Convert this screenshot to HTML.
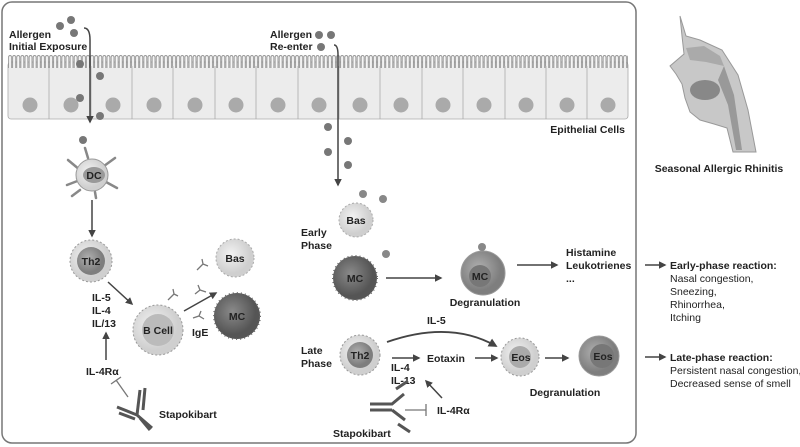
<!DOCTYPE html>
<html><head><meta charset="utf-8"><style>
html,body{margin:0;padding:0;background:#fff;}
svg{display:block;font-family:"Liberation Sans",sans-serif;}
.b{font-weight:bold;font-size:10.5px;fill:#222;}
.n{font-size:10.5px;fill:#222;}
</style></head><body>
<svg width="800" height="447" viewBox="0 0 800 447">
<defs>
<marker id="ah" viewBox="0 0 10 10" refX="8" refY="5" markerWidth="5" markerHeight="5" orient="auto"><path d="M0,0L10,5L0,10z" fill="#444"/></marker>
<radialGradient id="lt" cx="0.4" cy="0.4"><stop offset="0" stop-color="#f2f2f2"/><stop offset="1" stop-color="#cfcfcf"/></radialGradient>
<radialGradient id="dk" cx="0.4" cy="0.4"><stop offset="0" stop-color="#8a8a8a"/><stop offset="1" stop-color="#555"/></radialGradient>
<radialGradient id="md" cx="0.4" cy="0.4"><stop offset="0" stop-color="#b0b0b0"/><stop offset="1" stop-color="#7e7e7e"/></radialGradient>
<pattern id="vil" x="8" y="54" width="4.1" height="16" patternUnits="userSpaceOnUse"><path d="M0.6,16 L0.6,3 A1.45,1.45 0 0 1 3.5,3 L3.5,16" fill="#f6f6f6" stroke="#888" stroke-width="0.8"/></pattern>
</defs>
<rect x="2" y="2" width="634" height="441" rx="10" fill="#fff" stroke="#777" stroke-width="1.5"/>
<rect x="8" y="62" width="620" height="57" rx="3" fill="#ececec" stroke="#aaa" stroke-width="0.8"/>
<rect x="8" y="54" width="620" height="14" fill="url(#vil)"/>
<g stroke="#aaa" stroke-width="0.8">
<line x1="49" y1="66" x2="49" y2="119"/><line x1="91" y1="66" x2="91" y2="119"/><line x1="132" y1="66" x2="132" y2="119"/><line x1="173" y1="66" x2="173" y2="119"/><line x1="215" y1="66" x2="215" y2="119"/><line x1="256" y1="66" x2="256" y2="119"/><line x1="298" y1="66" x2="298" y2="119"/><line x1="339" y1="66" x2="339" y2="119"/><line x1="380" y1="66" x2="380" y2="119"/><line x1="422" y1="66" x2="422" y2="119"/><line x1="463" y1="66" x2="463" y2="119"/><line x1="505" y1="66" x2="505" y2="119"/><line x1="546" y1="66" x2="546" y2="119"/><line x1="587" y1="66" x2="587" y2="119"/>
</g>
<g fill="#aaa">
<circle cx="30" cy="105" r="7.5"/><circle cx="71" cy="105" r="7.5"/><circle cx="113" cy="105" r="7.5"/><circle cx="154" cy="105" r="7.5"/><circle cx="195" cy="105" r="7.5"/><circle cx="236" cy="105" r="7.5"/><circle cx="278" cy="105" r="7.5"/><circle cx="319" cy="105" r="7.5"/><circle cx="360" cy="105" r="7.5"/><circle cx="401" cy="105" r="7.5"/><circle cx="443" cy="105" r="7.5"/><circle cx="484" cy="105" r="7.5"/><circle cx="526" cy="105" r="7.5"/><circle cx="567" cy="105" r="7.5"/><circle cx="608" cy="105" r="7.5"/>
</g>
<text x="625" y="133" class="b" text-anchor="end">Epithelial Cells</text>
<g fill="#777">
<circle cx="60" cy="26" r="4"/><circle cx="71" cy="20" r="4"/><circle cx="74" cy="33" r="4"/>
<circle cx="80" cy="64" r="4"/><circle cx="100" cy="76" r="4"/><circle cx="80" cy="98" r="4"/><circle cx="100" cy="116" r="4"/><circle cx="83" cy="140" r="4"/>
<circle cx="319" cy="35" r="4"/><circle cx="331" cy="35" r="4"/><circle cx="321" cy="47" r="4"/>
<circle cx="328" cy="127" r="4"/><circle cx="348" cy="141" r="4"/><circle cx="328" cy="152" r="4"/><circle cx="348" cy="165" r="4"/>
</g>
<text x="9" y="38" class="b">Allergen</text><text x="9" y="50" class="b">Initial Exposure</text>
<text x="270" y="38" class="b">Allergen</text><text x="270" y="50" class="b">Re-enter</text>
<path d="M84,28 Q90,28 90,40 L90,122" stroke="#444" stroke-width="1.5" fill="none" marker-end="url(#ah)"/>
<path d="M334,45 Q338,45 338,55 L338,185" stroke="#444" stroke-width="1.5" fill="none" marker-end="url(#ah)"/>
<g stroke="#888" stroke-width="2.5" stroke-linecap="round" fill="none">
<path d="M80,170 L68,160"/><path d="M80,180 L67,185"/><path d="M104,166 L115,158"/><path d="M106,182 L117,188"/><path d="M88,158 L85,148"/><path d="M95,192 L96,198"/><path d="M80,190 L72,196"/>
</g>
<circle cx="92" cy="175" r="16" fill="url(#lt)" stroke="#999"/>
<ellipse cx="94" cy="175" rx="11" ry="8" fill="#999"/>
<text x="94" y="179" class="b" text-anchor="middle">DC</text>
<line x1="92" y1="200" x2="92" y2="236" stroke="#444" stroke-width="1.5" marker-end="url(#ah)"/>
<circle cx="91" cy="261" r="21" fill="url(#lt)" stroke="#999" stroke-dasharray="2 2"/>
<circle cx="91" cy="261" r="14" fill="url(#md)"/>
<text x="91" y="265" class="b" text-anchor="middle">Th2</text>
<text x="92" y="301" class="b">IL-5</text><text x="92" y="314" class="b">IL-4</text><text x="92" y="327" class="b">IL/13</text>
<line x1="108" y1="282" x2="132" y2="304" stroke="#444" stroke-width="1.5" marker-end="url(#ah)"/>
<line x1="106" y1="360" x2="106" y2="333" stroke="#444" stroke-width="1.5" marker-end="url(#ah)"/>
<text x="86" y="375" class="b">IL-4Rα</text>
<line x1="128" y1="397" x2="116" y2="380" stroke="#777" stroke-width="1.3"/><line x1="111" y1="384" x2="121" y2="377" stroke="#777" stroke-width="1.3"/>
<g stroke="#555" stroke-width="3" fill="none">
<path d="M117,407 L137,415 L152,428"/><path d="M119,413 L135,419"/><path d="M137,415 L140,390"/><path d="M145,388 L143,410"/><path d="M140,418 L150,430"/>
</g>
<text x="159" y="418" class="b">Stapokibart</text>
<circle cx="158" cy="330" r="25" fill="url(#lt)" stroke="#999" stroke-dasharray="2 2"/>
<circle cx="158" cy="330" r="16" fill="#bbb"/>
<text x="158" y="334" class="b" text-anchor="middle">B Cell</text>
<text x="192" y="336" class="b">IgE</text>
<line x1="184" y1="311" x2="216" y2="293" stroke="#444" stroke-width="1.5" marker-end="url(#ah)"/>
<g stroke="#777" stroke-width="1.3" fill="none">
<path d="M168,300 L174,294 M174,294 L178,296 M174,294 L173,289"/>
<path d="M197,270 L203,264 M203,264 L208,266 M203,264 L202,259"/>
<path d="M195,294 L200,290 L206,292 M200,290 L198,285"/>
<path d="M193,318 L199,316 L204,319 M199,316 L201,311"/>
</g>
<circle cx="235" cy="258" r="19" fill="url(#lt)" stroke="#aaa" stroke-dasharray="2 2"/>
<text x="235" y="262" class="b" text-anchor="middle">Bas</text>
<circle cx="237" cy="316" r="23" fill="url(#dk)" stroke="#666" stroke-width="2" stroke-dasharray="1 3"/>
<text x="237" y="320" class="b" text-anchor="middle">MC</text>
<text x="301" y="236" class="b">Early</text><text x="301" y="249" class="b">Phase</text>
<circle cx="356" cy="220" r="17" fill="url(#lt)" stroke="#aaa" stroke-dasharray="2 2"/>
<text x="356" y="224" class="b" text-anchor="middle">Bas</text>
<circle cx="363" cy="194" r="4" fill="#888"/><circle cx="383" cy="199" r="4" fill="#888"/>
<circle cx="355" cy="278" r="22" fill="url(#dk)" stroke="#666" stroke-width="2" stroke-dasharray="1 3"/>
<text x="355" y="282" class="b" text-anchor="middle">MC</text>
<circle cx="386" cy="254" r="4" fill="#888"/>
<line x1="386" y1="278" x2="441" y2="278" stroke="#444" stroke-width="1.5" marker-end="url(#ah)"/>
<circle cx="483" cy="273" r="22" fill="url(#md)" stroke="#999"/>
<circle cx="480" cy="276" r="11" fill="#777"/>
<text x="480" y="280" class="b" text-anchor="middle">MC</text>
<circle cx="482" cy="247" r="4" fill="#888"/>
<text x="485" y="306" class="b" text-anchor="middle">Degranulation</text>
<line x1="517" y1="265" x2="557" y2="265" stroke="#444" stroke-width="1.5" marker-end="url(#ah)"/>
<text x="566" y="256" class="b">Histamine</text><text x="566" y="269" class="b">Leukotrienes</text><text x="566" y="282" class="b">...</text>
<text x="301" y="354" class="b">Late</text><text x="301" y="367" class="b">Phase</text>
<circle cx="360" cy="355" r="20" fill="url(#lt)" stroke="#999" stroke-dasharray="2 2"/>
<circle cx="360" cy="355" r="13" fill="url(#md)"/>
<text x="360" y="359" class="b" text-anchor="middle">Th2</text>
<text x="427" y="324" class="b">IL-5</text>
<path d="M387,342 Q450,320 496,346" stroke="#444" stroke-width="1.8" fill="none" marker-end="url(#ah)"/>
<line x1="392" y1="358" x2="419" y2="358" stroke="#444" stroke-width="1.5" marker-end="url(#ah)"/>
<text x="391" y="371" class="b">IL-4</text><text x="391" y="384" class="b">IL-13</text>
<text x="427" y="362" class="b">Eotaxin</text>
<line x1="475" y1="358" x2="497" y2="358" stroke="#444" stroke-width="1.5" marker-end="url(#ah)"/>
<circle cx="520" cy="357" r="19" fill="url(#lt)" stroke="#999" stroke-dasharray="2 2"/>
<circle cx="520" cy="357" r="11" fill="#aaa"/>
<text x="521" y="361" class="b" text-anchor="middle">Eos</text>
<line x1="545" y1="358" x2="568" y2="358" stroke="#444" stroke-width="1.5" marker-end="url(#ah)"/>
<circle cx="599" cy="356" r="20" fill="url(#md)" stroke="#999"/>
<circle cx="602" cy="356" r="12" fill="#777"/>
<text x="603" y="360" class="b" text-anchor="middle">Eos</text>
<text x="565" y="396" class="b" text-anchor="middle">Degranulation</text>
<line x1="442" y1="398" x2="426" y2="381" stroke="#444" stroke-width="1.5" marker-end="url(#ah)"/>
<line x1="405" y1="410" x2="426" y2="410" stroke="#777" stroke-width="1.3"/><line x1="426" y1="404" x2="426" y2="416" stroke="#777" stroke-width="1.3"/>
<text x="437" y="414" class="b">IL-4Rα</text>
<g stroke="#555" stroke-width="3" fill="none">
<path d="M370,404 L392,404 L404,394"/><path d="M370,410 L392,410"/><path d="M392,410 L405,420"/><path d="M396,389 L408,381"/><path d="M398,424 L410,432"/>
</g>
<text x="333" y="437" class="b">Stapokibart</text>
<line x1="645" y1="265" x2="665" y2="265" stroke="#444" stroke-width="1.5" marker-end="url(#ah)"/>
<text x="670" y="269" class="b">Early-phase reaction:</text>
<text x="670" y="282" class="n">Nasal congestion,</text><text x="670" y="295" class="n">Sneezing,</text><text x="670" y="308" class="n">Rhinorrhea,</text><text x="670" y="321" class="n">Itching</text>
<line x1="645" y1="357" x2="665" y2="357" stroke="#444" stroke-width="1.5" marker-end="url(#ah)"/>
<text x="670" y="361" class="b">Late-phase reaction:</text>
<text x="670" y="374" class="n">Persistent nasal congestion,</text><text x="670" y="387" class="n">Decreased sense of smell</text>
<!-- head -->
<path d="M680,16 L686,36 L700,40 L722,50 L738,75 L748,110 L756,152 L733,152 L727,128 L714,124 L700,120 L690,112 L685,98 L682,84 L676,74 L670,66 L684,54 L682,36z" fill="#c8c8c8" stroke="#999"/>
<path d="M686,48 L704,46 L720,56 L724,66 L706,62 L690,60z" fill="#aaa"/>
<ellipse cx="705" cy="90" rx="15" ry="10" fill="#888"/>
<path d="M724,66 L734,95 L742,150 L736,150 L728,105 L718,80z" fill="#999"/>
<text x="719" y="172" class="b" text-anchor="middle">Seasonal Allergic Rhinitis</text>
</svg>
</body></html>
